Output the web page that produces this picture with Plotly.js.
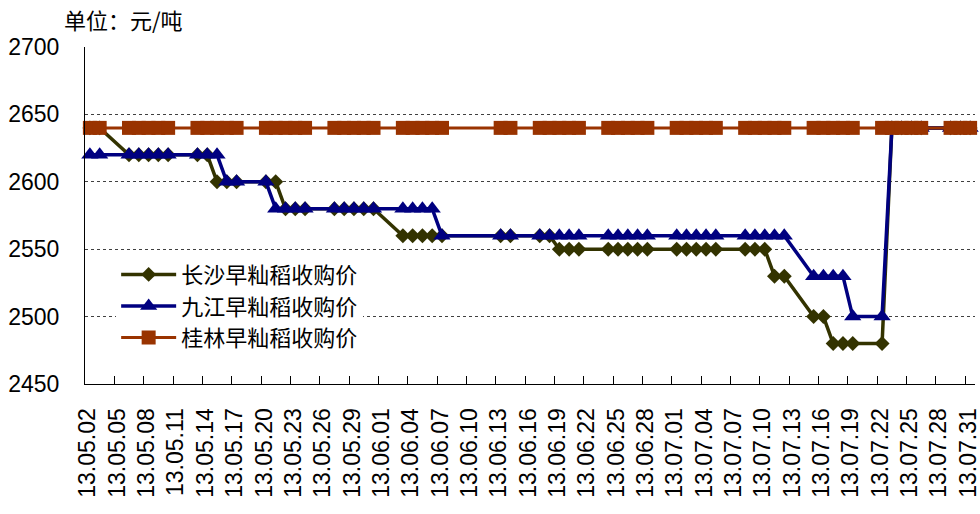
<!DOCTYPE html>
<html>
<head>
<meta charset="utf-8">
<script src="https://cdn.plot.ly/plotly-3.0.1.min.js"></script>
<style>html,body{margin:0;padding:0;background:#fff;}#chart{width:980px;height:514px;}</style>
</head>
<body>
<div id="chart"></div>
<script>
// Trading dates with quotes
const dates = [
  '2013-05-02','2013-05-03',
  '2013-05-06','2013-05-07','2013-05-08','2013-05-09','2013-05-10',
  '2013-05-13','2013-05-14','2013-05-15','2013-05-16','2013-05-17',
  '2013-05-20','2013-05-21','2013-05-22','2013-05-23','2013-05-24',
  '2013-05-27','2013-05-28','2013-05-29','2013-05-30','2013-05-31',
  '2013-06-03','2013-06-04','2013-06-05','2013-06-06','2013-06-07',
  '2013-06-13','2013-06-14',
  '2013-06-17','2013-06-18','2013-06-19','2013-06-20','2013-06-21',
  '2013-06-24','2013-06-25','2013-06-26','2013-06-27','2013-06-28',
  '2013-07-01','2013-07-02','2013-07-03','2013-07-04','2013-07-05',
  '2013-07-08','2013-07-09','2013-07-10','2013-07-11','2013-07-12',
  '2013-07-15','2013-07-16','2013-07-17','2013-07-18','2013-07-19',
  '2013-07-22','2013-07-23','2013-07-24','2013-07-25','2013-07-26',
  '2013-07-29','2013-07-30','2013-07-31'
];

const changsha = [
  2640,2640,
  2620,2620,2620,2620,2620,
  2620,2620,2600,2600,2600,
  2600,2600,2580,2580,2580,
  2580,2580,2580,2580,2580,
  2560,2560,2560,2560,2560,
  2560,2560,
  2560,2560,2550,2550,2550,
  2550,2550,2550,2550,2550,
  2550,2550,2550,2550,2550,
  2550,2550,2550,2530,2530,
  2500,2500,2480,2480,2480,
  2480,2640,2640,2640,2640,
  2640,2640,2640
];

const jiujiang = [
  2620,2620,
  2620,2620,2620,2620,2620,
  2620,2620,2620,2600,2600,
  2600,2580,2580,2580,2580,
  2580,2580,2580,2580,2580,
  2580,2580,2580,2580,2560,
  2560,2560,
  2560,2560,2560,2560,2560,
  2560,2560,2560,2560,2560,
  2560,2560,2560,2560,2560,
  2560,2560,2560,2560,2560,
  2530,2530,2530,2530,2500,
  2500,2640,2640,2640,2640,
  2640,2640,2640
];

const guilin = [
  2640,2640,
  2640,2640,2640,2640,2640,
  2640,2640,2640,2640,2640,
  2640,2640,2640,2640,2640,
  2640,2640,2640,2640,2640,
  2640,2640,2640,2640,2640,
  2640,2640,
  2640,2640,2640,2640,2640,
  2640,2640,2640,2640,2640,
  2640,2640,2640,2640,2640,
  2640,2640,2640,2640,2640,
  2640,2640,2640,2640,2640,
  2640,2640,2640,2640,2640,
  2640,2640,2640
];

const seriesNames = ['长沙早籼稻收购价','九江早籼稻收购价','桂林早籼稻收购价'];

const tickDates = [
  '2013-05-02','2013-05-05','2013-05-08','2013-05-11','2013-05-14','2013-05-17',
  '2013-05-20','2013-05-23','2013-05-26','2013-05-29','2013-06-01','2013-06-04',
  '2013-06-07','2013-06-10','2013-06-13','2013-06-16','2013-06-19','2013-06-22',
  '2013-06-25','2013-06-28','2013-07-01','2013-07-04','2013-07-07','2013-07-10',
  '2013-07-13','2013-07-16','2013-07-19','2013-07-22','2013-07-25','2013-07-28',
  '2013-07-31'
];
const tickLabels = [
  '13.05.02','13.05.05','13.05.08','13.05.11','13.05.14','13.05.17',
  '13.05.20','13.05.23','13.05.26','13.05.29','13.06.01','13.06.04',
  '13.06.07','13.06.10','13.06.13','13.06.16','13.06.19','13.06.22',
  '13.06.25','13.06.28','13.07.01','13.07.04','13.07.07','13.07.10',
  '13.07.13','13.07.16','13.07.19','13.07.22','13.07.25','13.07.28',
  '13.07.31'
];

// Each day occupies one interval on the date axis; points sit mid-interval.
const xMid = dates.map(d => d + ' 12:00');

const cjk = '"Noto Sans CJK SC", "Noto Sans", sans-serif';
const latin = '"Liberation Sans", Arial, sans-serif';

const traces = [
  {
    x: xMid, y: changsha, name: seriesNames[0], type: 'scatter', mode: 'lines+markers',
    line: {color: '#333300', width: 3.5},
    marker: {symbol: 'diamond', size: 11.5, color: '#333300'},
    cliponaxis: false
  },
  {
    x: xMid, y: jiujiang, name: seriesNames[1], type: 'scatter', mode: 'lines+markers',
    line: {color: '#000080', width: 3.5},
    marker: {symbol: 'triangle-up', size: 15, color: '#000080'},
    cliponaxis: false
  },
  {
    x: xMid, y: guilin, name: seriesNames[2], type: 'scatter', mode: 'lines+markers',
    line: {color: '#993300', width: 3},
    marker: {symbol: 'square', size: 14, color: '#993300'},
    cliponaxis: false
  }
];

const layout = {
  width: 980, height: 514,
  margin: {l: 85, r: 5, t: 47, b: 130},
  paper_bgcolor: '#ffffff', plot_bgcolor: '#ffffff',
  showlegend: true,
  title: {
    text: '单位：元/吨',
    font: {family: cjk, size: 22, color: '#000'},
    x: 64/980, xanchor: 'left', xref: 'container',
    y: 1 - 21/514, yanchor: 'middle', yref: 'container'
  },
  xaxis: {
    type: 'date',
    range: ['2013-05-02', '2013-08-01'],
    tickmode: 'array', tickvals: tickDates, ticktext: tickLabels,
    tickangle: -90,
    ticks: 'inside', ticklen: 8, tickcolor: '#000', tickwidth: 1,
    ticklabelshift: 3,
    ticklabelstandoff: 14,
    ticklabeloverflow: 'allow',
    tickfont: {family: latin, size: 23, color: '#000'},
    showgrid: false, zeroline: false,
    showline: true, linecolor: '#000', linewidth: 1
  },
  yaxis: {
    range: [2450, 2700], dtick: 50, tick0: 2450,
    ticks: '',
    ticklabelstandoff: 20,
    tickfont: {family: latin, size: 23, color: '#000'},
    showgrid: true, gridcolor: '#404040', gridwidth: 1, griddash: 'dot',
    zeroline: false,
    showline: true, linecolor: '#000', linewidth: 1
  },
  legend: {
    x: 0.035, xanchor: 'left', y: 0.387, yanchor: 'top',
    bgcolor: 'rgba(255,255,255,1)',
    font: {family: cjk, size: 22, color: '#000'},
    itemwidth: 55, tracegroupgap: 0
  }
};

Plotly.newPlot('chart', traces, layout, {displayModeBar: false, staticPlot: true});
</script>
</body>
</html>
